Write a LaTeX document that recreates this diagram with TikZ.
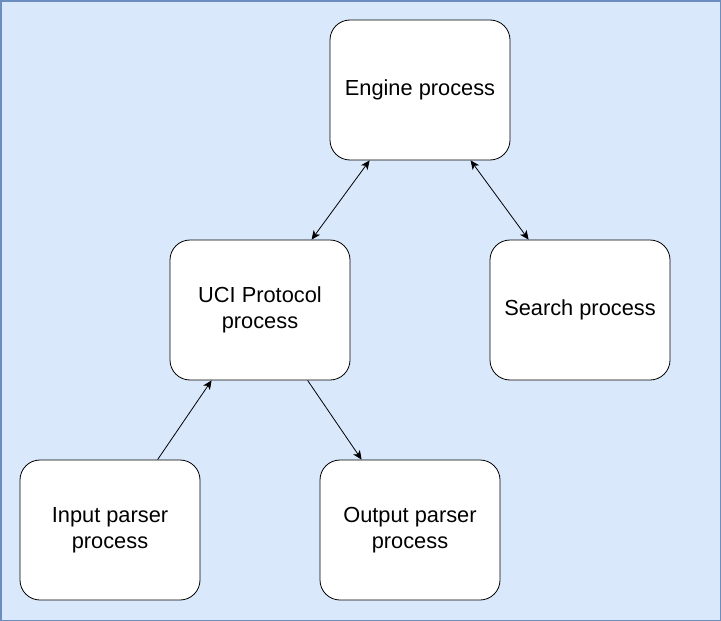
\documentclass[tikz,border=0pt]{standalone}
\usepackage{fontspec}
\setmainfont{Liberation Sans}
\usetikzlibrary{arrows.meta,calc}
\definecolor{bgfill}{HTML}{DAE8FC}
\definecolor{bgdraw}{HTML}{6C8EBF}
\tikzset{
  proc/.style={draw=black, fill=white, rounded corners=20pt, minimum width=180pt, minimum height=140pt,
    inner sep=0pt, align=center, font=\fontsize{21.8}{26}\selectfont, line width=0.8pt},
  conn/.style={line width=0.8pt, -{Stealth[length=9pt,width=8pt,inset=2.5pt]}},
  bconn/.style={line width=0.8pt, {Stealth[length=9pt,width=8pt,inset=2.5pt]}-{Stealth[length=9pt,width=8pt,inset=2.5pt]}}
}
\begin{document}
\begin{tikzpicture}[x=1pt,y=-1pt]
\useasboundingbox (0,0) rectangle (721,621);
\draw[fill=bgfill, draw=bgdraw, line width=1.5pt] (0.75,0.75) rectangle (720.25,620.25);
\node[proc] (eng) at (420,90) {Engine process};
\node[proc] (uci) at (260,310) {UCI Protocol\\process};
\node[proc] (srch) at (580,310) {Search process};
\node[proc] (inp) at (110,530) {Input parser\\process};
\node[proc] (outp) at (410,530) {Output parser\\process};
\draw[bconn] ($(eng.south west)+(40,0)$) -- ($(uci.north west)+(142,0)$);
\draw[bconn] ($(eng.south west)+(141,0)$) -- ($(srch.north west)+(39,0)$);
\draw[conn] ($(inp.north west)+(138,0)$) -- ($(uci.south west)+(42,0)$);
\draw[conn] ($(uci.south west)+(138,0)$) -- ($(outp.north west)+(42,0)$);
\end{tikzpicture}
\end{document}
